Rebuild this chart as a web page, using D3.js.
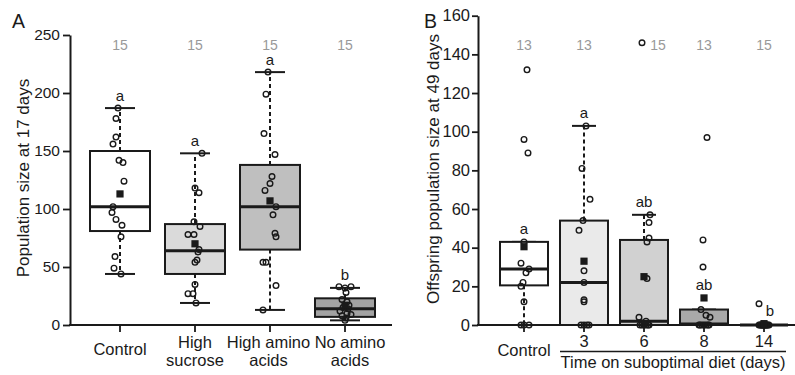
<!DOCTYPE html>
<html><head><meta charset="utf-8">
<script src="https://cdn.jsdelivr.net/npm/d3@7"></script>
<style>
html,body{margin:0;padding:0;background:#fff;}
svg{display:block;font-family:"Liberation Sans",Arial,sans-serif;}
</style></head>
<body>
<svg id="chart" width="795" height="375"></svg>
<script>
// ---------- Panel A data ----------
const catsA = ["Control","High sucrose","High amino acids","No amino acids"];
const labelLinesA = [["Control"],["High","sucrose"],["High amino","acids"],["No amino","acids"]];
const nA = [15,15,15,15];
const lettersA = ["a","a","a","b"];
const q1A  = [81, 44, 65, 7];
const medA = [102, 64, 102, 14];
const q3A  = [150, 87, 138, 23];
const loA  = [44, 19, 13, 4];
const hiA  = [187, 148, 218, 32];
const meanA = [113, 70, 107, 17];
const ptsA = [
  [187,178,162,156,142,140,124,102,97,91,86,76,59,49,44],
  [148,118,114,89,85,78,78,65,63,56,54,35,27,27,19],
  [218,199,165,147,128,122,116,102,95,79,76,54,54,34,13],
  [33,33,32,28,22,20,17,15,14,12,10,9,8,6,4]
];
const jitA = [
  [-2,-4,-4,-7,-1,3,4,-7,-8,-4,2,1,-5,-6,1],
  [7,0,4,-1,5,-7,-1,4,3,2,0,0,-7,-2,1],
  [-2,-4,-6,5,2,0,-5,6,3,5,6,-7,-4,6,-7],
  [-6,6,0,1,-3,2,4,-2,3,-5,2,6,-3,1,0]
];
const labelDxA = [0,0,-1.5,5];
const ticksA = [0,50,100,150,200,250];
const fillA = ["#ffffff","#dadada","#bfbfbf","#a3a3a3"];

// ---------- Panel B data ----------
const catsB = ["Control","3","6","8","14"];
const nB = [13,13,15,13,15];
const lettersB = ["a","a","ab","ab","b"];
const q1B  = [20.5, 0, 0, 0, 0];
const medB = [29, 22, 2, 0.5, 0];
const q3B  = [43, 54, 44, 8, 0];
const loB  = [0, 0, 0, 0, 0];
const hiB  = [43, 103, 57, 8, 0];
const meanB = [40.5, 33, 25, 14, 0.7];
const ptsB = [
  [132,96,89,43,32,29,27,22,20,12,0,0,0],
  [103,81,65,54,49,28,22,13,12,0,0,0,0],
  [146,57,53,45,43,24,4,2,1,0,0,0,0,0,0],
  [97,44,30,8,5,4,0,0,0,0,0,0,0],
  [11,0,0,0,0,0,0,0,0,0,0,0,0,0,0]
];
const jitB = [
  [3,0,4,0,-3,5,2,-1,-3,0,5,-3,0],
  [2,-2,6,-1,-5,0,0,0,0,-3,0,3,5],
  [-2,6,5,5,3,3,-5,2,-2,-4,0,4,-2,2,5],
  [3,-1,-1,-3,2,6,-4,0,4,-2,2,5,-5],
  [-5,-4,-2,0,2,4,-3,1,3,-1,5,-5,0,2,-2]
];
const ticksB = [0,20,40,60,80,100,120,140,160];
const fillB = ["#ffffff","#eaeaea","#d1d1d1","#a9a9a9","#8c8c8c"];

const INK = "#1a1a1a";
const svg = d3.select("#chart");
svg.append("rect").attr("width",795).attr("height",375).attr("fill","#fff");

function panel(opt){
  const {x, y, cats, q1, med, q3, lo, hi, mean, pts, jit, fills, n, letters,
         axisX, axisEnd, yTicks, boxW, capW, tickFont, nY} = opt;
  const g = svg.append("g");
  const ya = g.append("g").attr("transform",`translate(${axisX},0)`)
    .call(d3.axisLeft(y).tickValues(yTicks).tickSize(opt.tickSize).tickPadding(opt.tickPad).tickSizeOuter(0));
  ya.select(".domain").attr("stroke",INK).attr("stroke-width",2);
  ya.selectAll(".tick line").attr("stroke",INK).attr("stroke-width",1.8);
  ya.selectAll(".tick text").attr("fill",INK).style("font-size",tickFont+"px")
    .style("font-family","'Liberation Sans',Arial,sans-serif");
  g.append("line").attr("x1",axisX-1).attr("x2",axisEnd).attr("y1",y(0)).attr("y2",y(0))
    .attr("stroke",INK).attr("stroke-width",2);
  g.selectAll(".xt").data(cats).join("line").attr("class","xt")
    .attr("x1",d=>x(d)).attr("x2",d=>x(d)).attr("y1",y(0)).attr("y2",y(0)+7)
    .attr("stroke",INK).attr("stroke-width",1.8);

  cats.forEach((c,i)=>{
    const cx = x(c);
    g.append("line").attr("x1",cx).attr("x2",cx).attr("y1",y(q3[i])).attr("y2",y(hi[i]))
      .attr("stroke",INK).attr("stroke-width",2).attr("stroke-dasharray","4,3");
    g.append("line").attr("x1",cx).attr("x2",cx).attr("y1",y(q1[i])).attr("y2",y(lo[i]))
      .attr("stroke",INK).attr("stroke-width",2).attr("stroke-dasharray","4,3");
    [hi[i],lo[i]].forEach(v=>{
      g.append("line").attr("x1",cx-capW/2).attr("x2",cx+capW/2).attr("y1",y(v)).attr("y2",y(v))
        .attr("stroke",INK).attr("stroke-width",2);
    });
    g.append("rect").attr("x",cx-boxW/2).attr("width",boxW)
      .attr("y",y(q3[i])).attr("height",Math.max(0,y(q1[i])-y(q3[i])))
      .attr("fill",fills[i]).attr("stroke",INK).attr("stroke-width",2);
    g.append("line").attr("x1",cx-boxW/2).attr("x2",cx+boxW/2).attr("y1",y(med[i])).attr("y2",y(med[i]))
      .attr("stroke",INK).attr("stroke-width",3);
    g.selectAll(null).data(pts[i]).join("circle")
      .attr("cx",(d,j)=>cx+jit[i][j]).attr("cy",d=>y(d)).attr("r",2.8)
      .attr("fill","none").attr("stroke",INK).attr("stroke-width",1.4);
    g.append("rect").attr("x",cx-3.6).attr("y",y(mean[i])-3.6).attr("width",7.2).attr("height",7.2)
      .attr("fill",INK);
    const clash = pts[i].some(v => Math.abs(y(v) - (nY-5)) < 9);
    g.append("text").attr("x",cx + (clash?14:0)).attr("y",nY).attr("text-anchor","middle")
      .attr("fill","#999").style("font-size","14px").text(n[i]);
    const top = Math.max(hi[i],mean[i]);
    const isFlat = q3[i]===0 && hi[i]===0;
    g.append("text").attr("x",cx + (isFlat?6:0)).attr("y",y(top)-7.5).attr("text-anchor","middle")
      .attr("fill",INK).style("font-size","15px").text(letters[i]);
  });
  return g;
}

// ---------- Panel A ----------
const yA = d3.scaleLinear().domain([0,250]).range([325,35]);
const xA = d3.scalePoint().domain(catsA).range([120,345]);
const gA = panel({x:xA,y:yA,cats:catsA,q1:q1A,med:medA,q3:q3A,lo:loA,hi:hiA,mean:meanA,
  pts:ptsA,jit:jitA,fills:fillA,n:nA,letters:lettersA,axisX:70,axisEnd:392,yTicks:ticksA,
  boxW:60,capW:30,tickFont:15.5,tickSize:7,tickPad:3,nY:50});
catsA.forEach((c,i)=>{
  const lines = labelLinesA[i];
  const lx = xA(c) + labelDxA[i];
  const t = gA.append("text").attr("text-anchor","middle").attr("fill",INK).style("font-size","16.5px");
  if(lines.length===1){
    t.append("tspan").attr("x",lx).attr("y",355).text(lines[0]);
  } else {
    t.append("tspan").attr("x",lx).attr("y",348).text(lines[0]);
    t.append("tspan").attr("x",lx).attr("y",366).text(lines[1]);
  }
});
gA.append("text").attr("transform","translate(29,178) rotate(-90)").attr("text-anchor","middle")
  .attr("fill",INK).style("font-size","17px").text("Population size at 17 days");
gA.append("text").attr("x",12).attr("y",28).attr("fill",INK).style("font-size","19.5px").text("A");

// ---------- Panel B ----------
const yB = d3.scaleLinear().domain([0,160]).range([325,15.7]);
const xB = d3.scalePoint().domain(catsB).range([524,764]);
const gB = panel({x:xB,y:yB,cats:catsB,q1:q1B,med:medB,q3:q3B,lo:loB,hi:hiB,mean:meanB,
  pts:ptsB,jit:jitB,fills:fillB,n:nB,letters:lettersB,axisX:478,axisEnd:795,yTicks:ticksB,
  boxW:48,capW:24,tickFont:16.5,tickSize:6,tickPad:2,nY:50});
catsB.forEach((c,i)=>{
  gB.append("text").attr("x",xB(c)).attr("y",i===0?356:347).attr("text-anchor","middle")
    .attr("fill",INK).style("font-size","16.5px").text(c);
});
gB.append("line").attr("x1",xB("3")-24).attr("x2",xB("14")+22).attr("y1",351.5).attr("y2",351.5)
  .attr("stroke",INK).attr("stroke-width",1.5);
gB.append("text").attr("x",(xB("3")-24+xB("14")+22)/2).attr("y",368).attr("text-anchor","middle")
  .attr("fill",INK).style("font-size","16.5px").text("Time on suboptimal diet (days)");
gB.append("text").attr("transform","translate(439,169) rotate(-90)").attr("text-anchor","middle")
  .attr("fill",INK).style("font-size","17px").text("Offspring population size at 49 days");
gB.append("text").attr("x",424).attr("y",28).attr("fill",INK).style("font-size","19.5px").text("B");
</script>
</body></html>
